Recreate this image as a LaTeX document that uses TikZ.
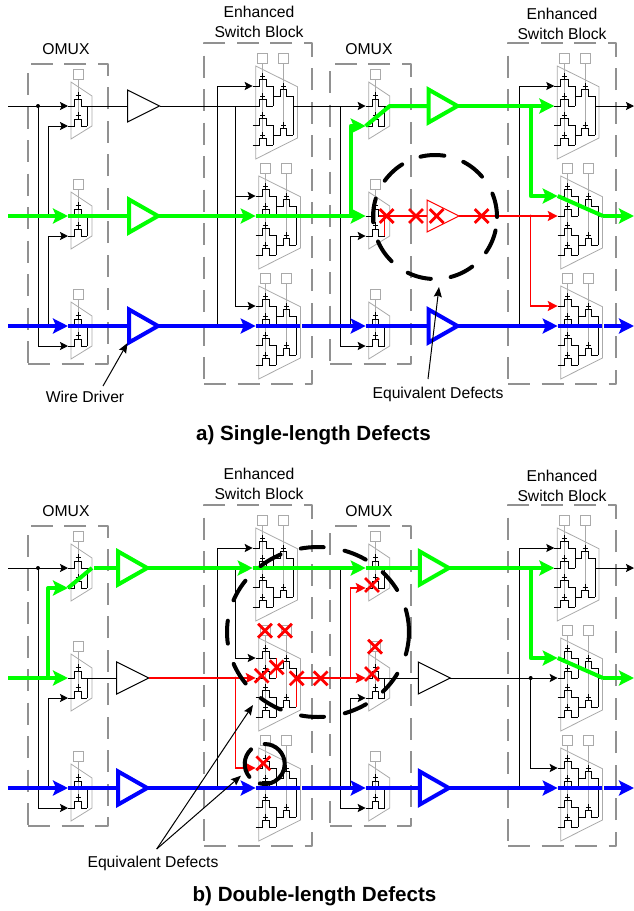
\documentclass[tikz,border=0pt]{standalone}
\usepackage{fontspec}
\setmainfont{Liberation Sans}
\usepackage{xcolor}
\usetikzlibrary{shapes,arrows.meta}
\definecolor{boxcolor}{RGB}{145, 145, 145}
\definecolor{cellcolor}{RGB}{170, 170, 170}
\definecolor{livegreen}{RGB}{0, 255, 0}
\definecolor{liveblue}{RGB}{0, 0, 255}
\definecolor{faultred}{RGB}{255, 0, 0}

\begin{document}
\begin{tikzpicture}[
    x=1pt, y=-1pt,
    blockbox/.style={draw=boxcolor, line width=2.4pt, dash pattern=on 22pt off 11.5pt, line join=round},
    trap/.style={draw=cellcolor, line width=0.8pt},
    sqbox/.style={draw=cellcolor, line width=0.9pt},
    stem/.style={draw=cellcolor, line width=1pt},
    fet/.style={draw=black, line width=1pt},
    driver/.style={isosceles triangle, isosceles triangle stretches, draw, inner sep=0pt, outer sep=0pt,
        minimum width=32pt, minimum height=32pt, anchor=west, fill=white, line join=miter},
    tdriver/.style={driver, line width=1pt},
    gdriver/.style={driver, draw=livegreen, line width=4pt, minimum width=33pt, minimum height=29pt, xshift=1.5pt},
    bdriver/.style={driver, draw=liveblue, line width=4pt, minimum width=33pt, minimum height=29pt, xshift=1.5pt},
    rdriver/.style={driver, draw=faultred, line width=1pt},
    wire/.style={line width=1pt},
    awire/.style={wire, -{Stealth[length=8pt,width=8pt,inset=1.5pt]}},
    ptr/.style={wire, -{Stealth[length=10pt,width=8pt,inset=1.5pt]}},
    rwire/.style={faultred, line width=1.2pt},
    arwire/.style={rwire, -{Stealth[length=10pt,width=10pt,inset=2pt]}},
    gwire/.style={livegreen, line width=4pt, line join=round},
    agwire/.style={gwire, -{Stealth[length=15pt,width=15pt,inset=3pt]}},
    bwire/.style={liveblue, line width=4pt},
    abwire/.style={bwire, -{Stealth[length=15pt,width=15pt,inset=3pt]}},
    jdot/.style={circle, fill=black, inner sep=0pt, minimum size=4pt},
    rdot/.style={circle, fill=faultred, inner sep=0pt, minimum size=3pt},
    defect/.style={cross out, draw=faultred, line width=2.8pt, inner sep=0pt, minimum size=11pt},
    ring/.style={draw=black, line width=4pt, line cap=round},
    lbl/.style={font=\fontsize{15.7}{19.5}\selectfont, align=center, inner sep=0pt},
    ttl/.style={font=\fontsize{20.6}{24}\selectfont\bfseries, inner sep=0pt},
    omuxcell/.pic={
        \draw[trap] (0,-24) -- (21,-10) -- (21,20) -- (0,33) -- cycle;
        \draw[sqbox] (2,-37) rectangle (12,-27);
        \draw[stem] (7,-27) -- (7,9);
        \foreach \r in {0,20} {
            \draw[fet] (-3,\r) -- (3.3,\r) -- (3.3,\r-7) -- (10,\r-7) -- (10,\r) -- (16,\r);
            \draw[fet] (4.5,\r-11) -- (9.5,\r-11);
            \draw[fet] (7,\r-14) -- (7,\r-7);
        }
        \draw[fet] (16,0) -- (16,20);
        \draw[fet] (16,0) -- (21,0);
        \coordinate (-ia) at (-3,0);
        \coordinate (-ib) at (-3,20);
        \coordinate (-t) at (10,0);
        \coordinate (-m) at (16,0);
        \coordinate (-n) at (16,20);
        \coordinate (-o) at (21,0);
    },
    sbcell/.pic={
        \draw[trap] (0,-40) -- (41.7,-19.3) -- (41.7,32) -- (0,53) -- cycle;
        \draw[sqbox] (2,-53) rectangle (12,-43);
        \draw[sqbox] (22.7,-53) rectangle (32.7,-43);
        \draw[stem] (7,-43) -- (7,29);
        \draw[stem] (27.7,-43) -- (27.7,19);
        \foreach \r in {-20,0,19,39} {
            \draw[fet] (-3,\r) -- (3.3,\r) -- (3.3,\r-7) -- (10.7,\r-7) -- (10.7,\r) -- (17.7,\r);
            \draw[fet] (4.5,\r-10) -- (9.5,\r-10);
            \draw[fet] (7,\r-13) -- (7,\r-7);
        }
        \foreach \r in {-10,29} {
            \draw[fet] (17.7,\r) -- (24.3,\r) -- (24.3,\r-7) -- (31,\r-7) -- (31,\r) -- (37.7,\r);
            \draw[fet] (25.2,\r-10) -- (30.2,\r-10);
            \draw[fet] (27.7,\r-13) -- (27.7,\r-7);
        }
        \draw[fet] (17.7,-20) -- (17.7,0);
        \draw[fet] (17.7,19) -- (17.7,39);
        \draw[fet] (37.7,-10) -- (37.7,29);
        \draw[fet] (37.7,0) -- (41.7,0);
        \coordinate (-ia) at (-3,-20);
        \coordinate (-ib) at (-3,0);
        \coordinate (-p) at (17.7,-20);
        \coordinate (-q) at (17.7,0);
        \coordinate (-r) at (37.7,0);
        \coordinate (-u) at (37.7,29);
        \coordinate (-o) at (41.7,0);
    }
]
    \useasboundingbox (0,0) rectangle (634,911);

    % Blocks and cells, same for both panels
    \foreach \p/\dy in {a/0,b/462} {
        \begin{scope}[shift={(0,\dy)}]
            \draw[blockbox] (28,364) -- (108,364) -- (108,64) -- (28,64) -- cycle;
            \draw[blockbox] (204,384) -- (312,384) -- (312,43) -- (204,43) -- cycle;
            \draw[blockbox] (330,364) -- (411,364) -- (411,64) -- (330,64) -- cycle;
            \draw[blockbox] (508,384) -- (616,384) -- (616,43) -- (508,43) -- cycle;

            \node[lbl] (\p omuxl1) at (66,49) {OMUX};
            \node[lbl] (\p sbl1) at (259,22) {Enhanced\\Switch Block};
            \node[lbl] (\p omuxl2) at (369,49) {OMUX};
            \node[lbl] (\p sbl2) at (562,24) {Enhanced\\Switch Block};

            % OMUX cells
            \foreach \n/\ro in {1/106,2/216,3/326} {
                \pic (\p ox\n) at (71,\ro) {omuxcell};
                \pic (\p oy\n) at (368.7,\ro) {omuxcell};
            }

            % Switch block cells
            \pic (\p sx1) at (255.7,106) {sbcell};
            \pic (\p sx2) at (258.7,216) {sbcell};
            \pic (\p sx3) at (258.7,326) {sbcell};
            \pic (\p sy1) at (557.3,106) {sbcell};
            \pic (\p sy2) at (560.7,216) {sbcell};
            \pic (\p sy3) at (560.7,326) {sbcell};

            % Row ends and vertical tap points
            \foreach \n/\ro in {1/106,2/216,3/326} {
                \coordinate (\p st\n) at (8,\ro);
                \coordinate (\p en\n) at (634,\ro);
                \coordinate (\p ta\n) at (38,\ro);
                \coordinate (\p tb\n) at (48,\ro);
                \coordinate (\p tc\n) at (217.5,\ro);
                \coordinate (\p td\n) at (235.5,\ro);
                \coordinate (\p te\n) at (340,\ro);
                \coordinate (\p tf\n) at (350.7,\ro);
                \coordinate (\p tg\n) at (519,\ro);
                \coordinate (\p th\n) at (530.7,\ro);
            }
            \coordinate (\p sw) at (603,216);
        \end{scope}
    }

    % Panel a: wire drivers
    \node[tdriver] (ad11) at (127.5,106) {};
    \node[gdriver] (ad12) at (127.5,216) {};
    \node[bdriver] (ad13) at (127.5,326) {};
    \node[gdriver] (ad21) at (427,106) {};
    \node[rdriver] (ad22) at (427,216) {};
    \node[bdriver] (ad23) at (427,326) {};

    % Panel a: top row
    \draw[awire] (ast1) -- (aox1-ia);
    \draw[wire] (aox1-o) -- (ad11.west);
    \draw[wire] (ad11.east) -- (asx1-ib);
    \draw[awire] (asx1-o) -- (aoy1-ia);
    \draw[awire] (asy1-o) -- (aen1);
    \node[jdot] (aj1) at (ata1) {};

    % Panel a: tapped inputs
    \draw[awire] (ata1) |- (aox3-ib);
    \draw[awire] (atb2) |- (aox1-ib);
    \draw[awire] (atb3) |- (aox2-ib);
    \draw[awire] (atc3) |- (asx1-ia);
    \draw[awire] (atd1) |- (asx2-ia);
    \draw[awire] (atd1) |- (asx3-ia);
    \draw[awire] (ate1) |- (aoy3-ib);
    \draw[awire] (atf3) |- (aoy2-ib);
    \draw[awire] (atg3) |- (asy1-ia);

    % Panel a: green route
    \draw[agwire] (ast2) -- (aox2-ia);
    \draw[gwire] (aox2-ia) -- (ad12.west);
    \draw[agwire] (ad12.east) -- (asx2-ib);
    \draw[agwire] (asx2-ib) -- (aoy2-ia);
    \draw[agwire] (atf2) |- (aoy1-ib);
    \draw[gwire] (aoy1-ib) -- (aoy1-o) -- (ad21.west);
    \draw[agwire] (ad21.east) -- (asy1-ib);
    \draw[agwire] (ath1) |- (asy2-ia);
    \draw[gwire] (asy2-ia) -- (asw);
    \draw[agwire] (asw) -- (aen2);

    % Panel a: blue route
    \draw[abwire] (ast3) -- (aox3-ia);
    \draw[bwire] (aox3-ia) -- (ad13.west);
    \draw[abwire] (ad13.east) -- (asx3-ib);
    \draw[bwire] (asx3-ib) -- (asx3-o);
    \draw[abwire, shorten <=2pt] (asx3-o) -- (aoy3-ia);
    \draw[bwire] (aoy3-ia) -- (ad23.west);
    \draw[abwire] (ad23.east) -- (asy3-ib);
    \draw[bwire] (asy3-ib) -- (asy3-o);
    \draw[abwire, shorten <=2pt] (asy3-o) -- (aen3);

    % Panel a: defective route
    \draw[rwire] (aoy2-n) -- (aoy2-m);
    \draw[rwire] (aoy2-t) -- (ad22.west);
    \draw[arwire] (ad22.east) -- (asy2-ib);
    \draw[arwire] (ath2) |- (asy3-ia);
    \node[rdot] (ar1) at (ath2) {};

    % Panel b: wire drivers
    \node[gdriver] (bd11) at (116.7,568) {};
    \node[tdriver] (bd12) at (116.7,678) {};
    \node[bdriver] (bd13) at (116.7,788) {};
    \node[gdriver] (bd21) at (418.3,568) {};
    \node[tdriver] (bd22) at (418.3,678) {};
    \node[bdriver] (bd23) at (418.3,788) {};

    % Panel b: top row
    \draw[awire] (bst1) -- (box1-ia);
    \node[jdot] (bj1) at (bta1) {};
    \draw[awire] (bsy1-o) -- (ben1);

    % Panel b: tapped inputs
    \draw[awire] (bta1) |- (box3-ib);
    \draw[awire] (btb3) |- (box2-ib);
    \draw[awire] (btc3) |- (bsx1-ia);
    \draw[awire] (btd1) |- (bsx2-ia);
    \draw[awire] (bte1) |- (boy3-ib);
    \draw[awire] (btf3) |- (boy2-ib);
    \draw[awire] (btg3) |- (bsy1-ia);
    \draw[awire] (bth2) |- (bsy3-ia);
    \node[jdot] (bj2) at (bth2) {};

    % Panel b: green route
    \draw[agwire] (btb2) |- (box1-ib);
    \draw[gwire] (box1-ib) -- (box1-o);
    \draw[gwire, shorten <=2pt] (box1-o) -- (bd11.west);
    \draw[agwire] (bd11.east) -- (bsx1-ib);
    \draw[agwire] (bsx1-ib) -- (boy1-ia);
    \draw[gwire] (boy1-ia) -- (bd21.west);
    \draw[agwire] (bd21.east) -- (bsy1-ib);
    \draw[agwire] (bth1) |- (bsy2-ia);
    \draw[gwire] (bsy2-ia) -- (bsw);
    \draw[agwire] (bsw) -- (ben2);
    \draw[agwire] (bst2) -- (box2-ia);

    % Panel b: middle row
    \draw[wire] (box2-o) -- (bd12.west);
    \draw[wire] (boy2-o) -- (bd22.west);
    \draw[awire] (bd22.east) -- (bsy2-ib);

    % Panel b: blue route
    \draw[abwire] (bst3) -- (box3-ia);
    \draw[bwire] (box3-ia) -- (bd13.west);
    \draw[abwire] (bd13.east) -- (bsx3-ib);
    \draw[bwire] (bsx3-ib) -- (bsx3-o);
    \draw[abwire, shorten <=2pt] (bsx3-o) -- (boy3-ia);
    \draw[bwire] (boy3-ia) -- (bd23.west);
    \draw[abwire] (bd23.east) -- (bsy3-ib);
    \draw[bwire] (bsy3-ib) -- (bsy3-o);
    \draw[abwire, shorten <=2pt] (bsy3-o) -- (ben3);

    % Panel b: defective route
    \draw[arwire] (bd12.east) -- (bsx2-ib);
    \draw[arwire] (btd2) |- (bsx3-ia);
    \node[rdot] (br1) at (btd2) {};
    \draw[rwire] (bsx2-p) -- (bsx2-q);
    \draw[rwire] (bsx2-r) -- (bsx2-u);
    \draw[arwire] (bsx2-r) -- (boy2-ia);
    \draw[arwire] (btf2) |- (boy1-ib);

    % Defects
    \foreach \n/\cx/\cy in {1/386.7/216,2/416/216,3/436.7/216,4/481.7/216,
        5/265/630.7,6/285/630.7,7/261.7/675.7,8/276.7/667.3,9/296.7/678.3,
        10/320.7/678.3,11/372/585,12/375/646.7,13/372/674,14/263.3/763.3} {
        \node[defect] (x\n) at (\cx,\cy) {};
    }

    % Equivalent fault rings
    \coordinate (ca) at (435,217);
    \coordinate (cb) at (318,632);
    \coordinate (cc) at (264.7,764);
    \draw[ring, dash pattern=on 24pt off 20pt] (ca) circle[radius=62pt];
    \draw[ring, dash pattern=on 23pt off 21.2pt] (cb) ellipse[x radius=91pt, y radius=85pt];
    \draw[ring] ([shift={(133:20pt)}]cc) arc[start angle=133, end angle=220, radius=20pt];
    \draw[ring] ([shift={(90:20pt)}]cc) arc[start angle=90, end angle=-104, radius=20pt];

    % Labels
    \node[lbl] (wdl) at (85,397) {Wire Driver};
    \node[lbl] (eqa) at (438,394) {Equivalent Defects};
    \node[lbl] (eqb) at (153,863) {Equivalent Defects};
    \node[ttl] (tta) at (313.5,435) {a) Single-length Defects};
    \node[ttl] (ttb) at (314.5,896) {b) Double-length Defects};

    % Pointers
    \coordinate (wds) at (103,386);
    \coordinate (wdt) at (127.5,343);
    \coordinate (eas) at (428,379);
    \coordinate (eat) at (439,287);
    \coordinate (ebs) at (156.7,849);
    \coordinate (ebt) at (253,705);
    \coordinate (ebu) at (241,775.7);
    \draw[ptr] (wds) -- (wdt);
    \draw[ptr] (eas) -- (eat);
    \draw[ptr] (ebs) -- (ebt);
    \draw[ptr] (ebs) -- (ebu);
\end{tikzpicture}
\end{document}
